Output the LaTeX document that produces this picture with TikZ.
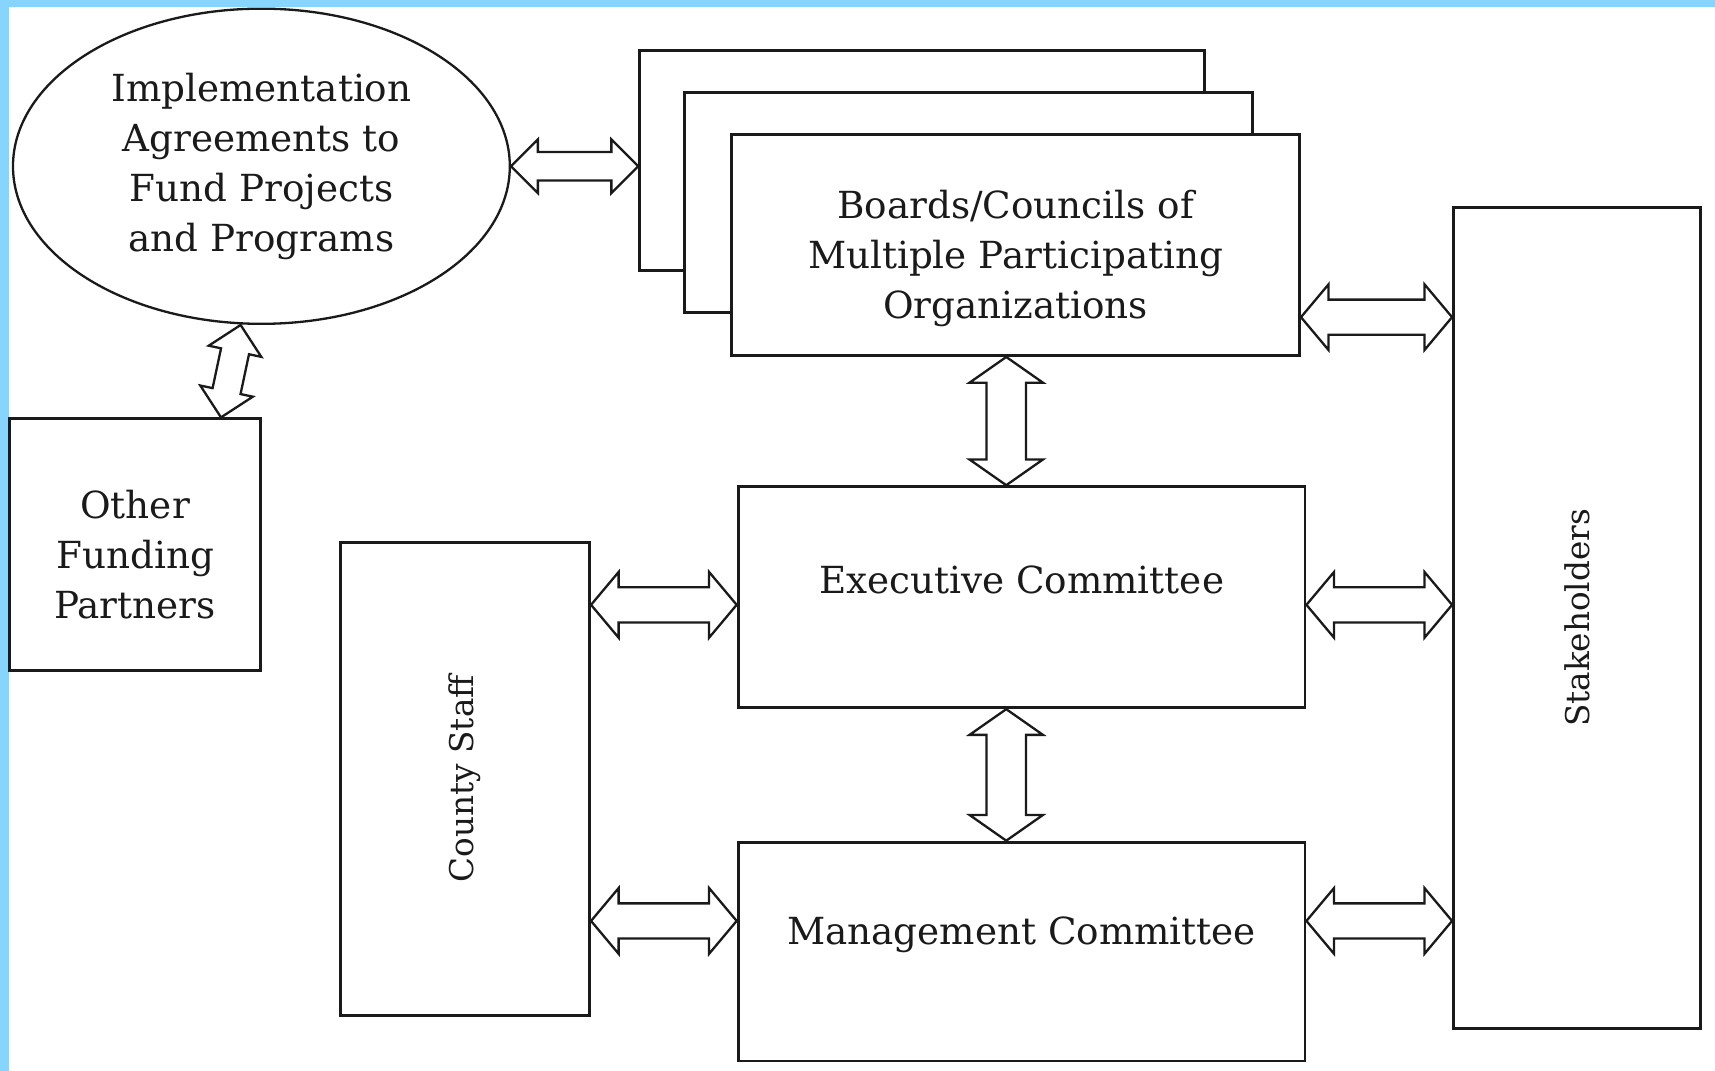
\documentclass[tikz,border=0pt]{standalone}
\usepackage{fontspec}
\setmainfont{DejaVu Serif}
\usetikzlibrary{calc,shapes.geometric,shapes.arrows}
\definecolor{frame}{HTML}{87D5FD}
\definecolor{ink}{HTML}{1A1A1A}
\tikzset{
  box/.style={draw=ink, line width=0.75pt, fill=white, inner sep=0pt},
  oval/.style={ellipse, draw=ink, line width=0.6pt, inner sep=0pt},
  lbl/.style={font=\fontsize{9.7}{13}\selectfont, align=center, text=ink},
  sidelbl/.style={font=\fontsize{8.5}{10}\selectfont, text=ink, rotate=90},
  dbl/.style={double arrow, draw=ink, line width=0.6pt, fill=white, inner sep=0pt,
    text height=0.24cm, text depth=0pt, double arrow head extend=0.115cm},
  dblwide/.style={dbl, text height=0.3cm, double arrow head extend=0.14cm, double arrow tip angle=100},
  dblvert/.style={dbl, text height=0.34cm, double arrow head extend=0.155cm, double arrow tip angle=110},
  link/.style={to path={let \p1=($(\tikztotarget)-(\tikztostart)$), \n1={veclen(\x1,\y1)} in
    -- (\tikztotarget) node[midway, sloped, #1, minimum height=\n1]{}}}
}
\begin{document}
\begin{tikzpicture}[x=0.01cm, y=-0.01cm]
\useasboundingbox (0,0) rectangle (1568,979);
% frame
\fill[frame] (0,0) rectangle (1568,6);
\fill[frame] (0,0) rectangle (8,979);

% funding side
\node[oval, minimum width=4.54cm, minimum height=2.88cm, lbl] (impl) at (239,152)
  {Implementation\\Agreements to\\Fund Projects\\and Programs};
\node[box, minimum width=2.29cm, minimum height=2.3cm,
  label={[lbl, yshift=-0.09cm]center:Other\\Funding\\Partners}] (other) at (123.5,498) {};

% boards stack
\node[box, minimum width=5.16cm, minimum height=2.01cm] (brdback) at (843,146.5) {};
\node[box, minimum width=5.19cm, minimum height=2.01cm] (brdmid) at (885.5,185.5) {};
\node[box, minimum width=5.19cm, minimum height=2.02cm,
  label={[lbl, yshift=-0.12cm]center:Boards/Councils of\\Multiple Participating\\Organizations}] (boards) at (928.5,224) {};

% committees
\node[box, minimum width=5.18cm, minimum height=2.02cm,
  label={[lbl, yshift=0.16cm]center:Executive Committee}] (exec) at (934,546) {};
\node[box, minimum width=5.18cm, minimum height=2cm,
  label={[lbl, yshift=0.15cm]center:Management Committee}] (mgmt) at (934,870) {};

% side columns
\node[box, minimum width=2.28cm, minimum height=4.32cm,
  label={[sidelbl]center:County Staff}] (county) at (425,712) {};
\node[box, minimum width=2.26cm, minimum height=7.5cm,
  label={[sidelbl]center:Stakeholders}] (stake) at (1442,565) {};

% links
\path (impl.east) to[link=dbl] (brdback.west |- impl.east);
\path ([xshift=-0.19cm]impl.south) to[link=dbl] ([xshift=0.785cm]other.north);
\path (boards.east |- 0,290) to[link=dblwide] (stake.west |- 0,290);
\path (boards.south -| 920,0) to[link=dblvert] (exec.north -| 920,0);
\path (exec.south -| 920,0) to[link=dblvert] (mgmt.north -| 920,0);
\path (county.east |- 0,553) to[link=dblwide] (exec.west |- 0,553);
\path (county.east |- 0,842) to[link=dblwide] (mgmt.west |- 0,842);
\path (exec.east |- 0,553) to[link=dblwide] (stake.west |- 0,553);
\path (mgmt.east |- 0,842) to[link=dblwide] (stake.west |- 0,842);
\end{tikzpicture}
\end{document}
